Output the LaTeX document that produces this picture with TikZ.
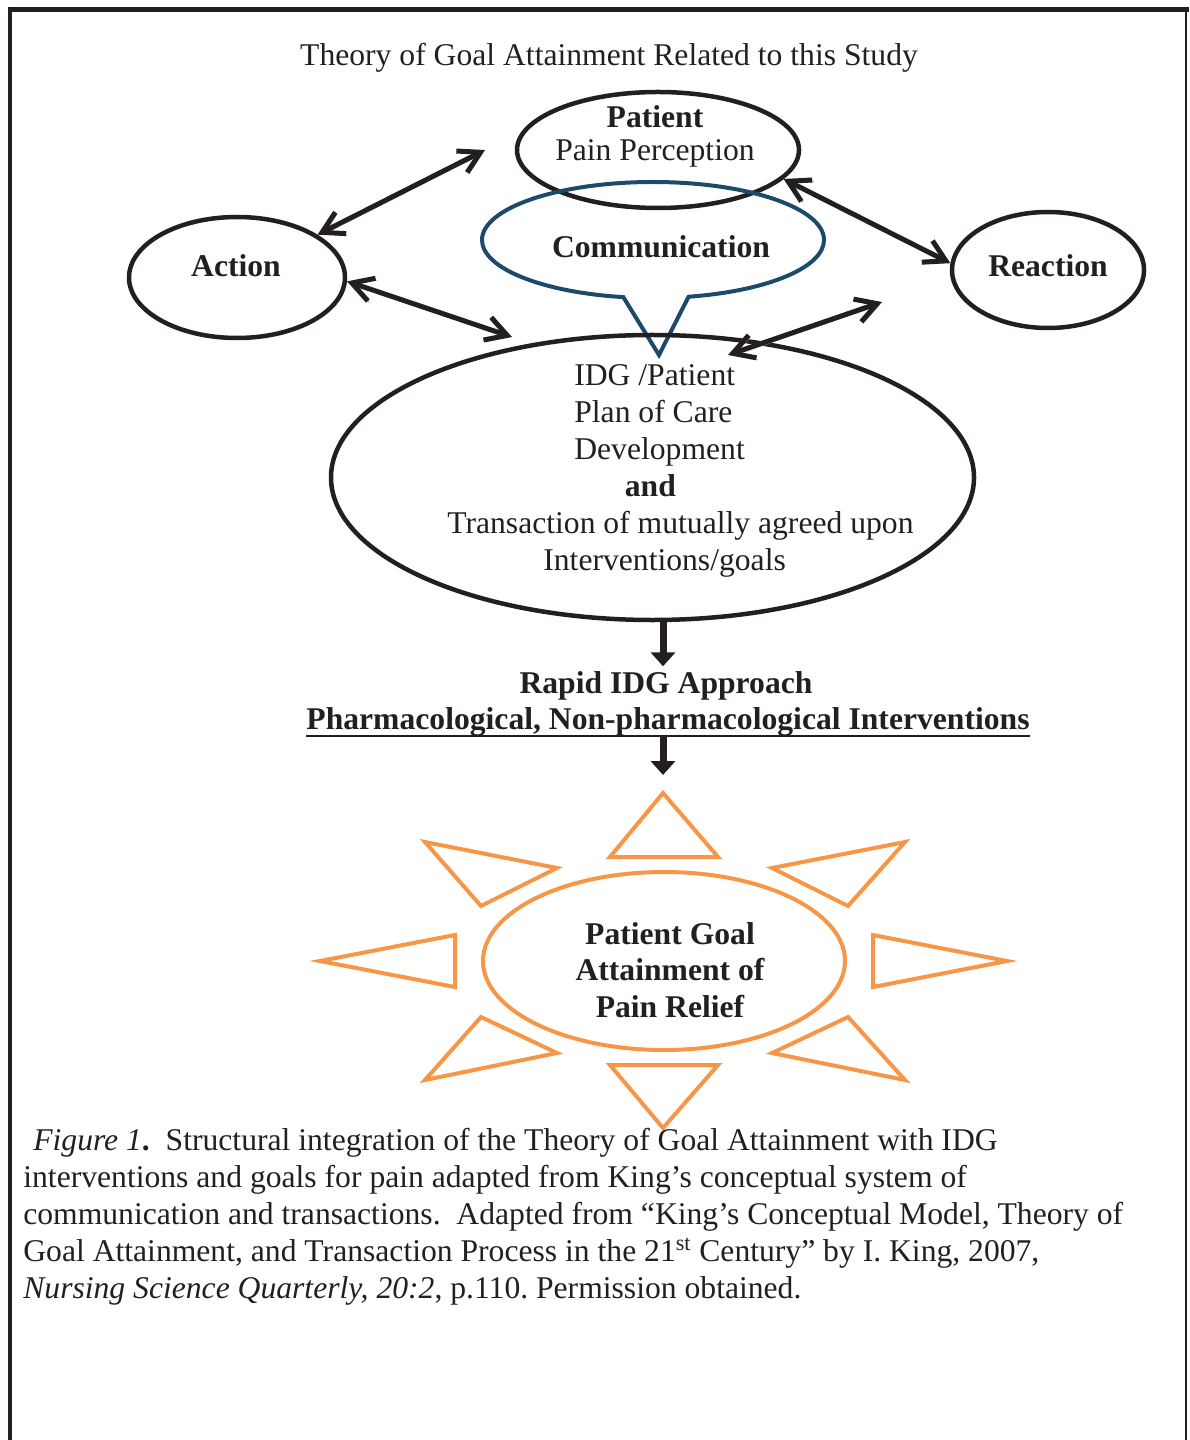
\documentclass[tikz,border=0pt]{standalone}
\usepackage{fontspec}
\setmainfont{Liberation Serif}
\usepackage{xcolor}
\usetikzlibrary{arrows.meta,shapes.geometric,shapes.callouts,positioning}
\definecolor{ink}{HTML}{231F20}
\definecolor{sunorange}{HTML}{F79646}
\definecolor{commblue}{HTML}{1B4A6B}
\tikzset{
    bubble/.style={
        draw=ink,
        ellipse,
        line width=0.9mm,
        inner sep=0pt
      },
    bold text/.style={
        font=\fontsize{18}{21}\selectfont\bfseries,
        align=center,
        inner sep=0pt
      },
    twoway/.style={
        {Straight Barb[length=4.2mm,width=4.8mm]}-{Straight Barb[length=4.2mm,width=4.8mm]},
        draw=ink,
        line width=1mm,
        preaction={draw=gray!55,transform canvas={shift={(0.35mm,-0.35mm)}}}
      },
    downward/.style={
        -{Triangle[length=2.8mm,width=4.8mm]},
        draw=ink,
        line width=1.4mm
      },
    ray/.style={
        draw=sunorange,
        line width=0.8mm,
        line join=miter
      }
}

\begin{document}
\begin{tikzpicture}[x=0.2mm,y=-0.2mm,font=\fontsize{18}{21}\selectfont,text=ink]
  \useasboundingbox (0,0) rectangle (1189,1440);
  % frame
  \draw[ink,line width=1mm] (8,10) -- (1189,10);
  \draw[ink,line width=0.8mm] (10,10) -- (10,1440);
  \draw[ink,line width=0.3mm] (1186,10) -- (1186,1440);

  \node (title) at (609,58) {Theory of Goal Attainment Related to this Study};

  % upper circle of nodes
  \node[bubble,minimum width=56.4mm,minimum height=23.2mm] (pat) at (658,150) {};
  \node[align=center,inner sep=0pt,font=\fontsize{18}{18.8}\selectfont] (patT) at (655,136)
    {\textbf{Patient}\\Pain Perception};
  \node[ellipse callout,draw=commblue,line width=0.8mm,inner sep=0pt,
        minimum width=68.4mm,minimum height=23.2mm,
        callout absolute pointer={(659,355)},callout pointer arc=22] (com) at (653,240) {};
  \node[bold text] (comT) at (661,247) {Communication};
  \node[bubble,minimum width=43.2mm,minimum height=24.2mm] (act) at (237,277.5) {};
  \node[bold text] (actT) at (236,266) {Action};
  \node[bubble,minimum width=38.4mm,minimum height=23.2mm] (rea) at (1048,270) {};
  \node[bold text] (reaT) at (1048,266) {Reaction};

  \node[bubble,minimum width=128.6mm,minimum height=57mm] (idg) at (652.5,477.5) {};
  \node[anchor=west,align=left,inner sep=0pt] (idgT) at (447,471)
    {\hspace*{25.4mm}IDG /Patient\\
     \hspace*{25.4mm}Plan of Care\\
     \hspace*{25.4mm}Development\\
     \hspace*{35.5mm}\textbf{and}\\
     Transaction of mutually agreed upon\\
     \hspace*{19.2mm}Interventions/goals};

  \coordinate (nearPat) at (485,150);
  \coordinate (nearIdgL) at (512,337);
  \coordinate (inIdgR) at (728,355);
  \coordinate (nearRea) at (882,302);
  \draw[twoway] (act.28) -- (nearPat);
  \draw[twoway] (act.-2) -- (nearIdgL);
  \draw[twoway] (pat.-13) -- (rea.176);
  \draw[twoway] (inIdgR) -- (nearRea);

  % approach
  \node[bold text,inner sep=1mm] (rapid) at (666,686) {Rapid IDG Approach};
  \node[bold text] (pharm) at (668,722) {Pharmacological, Non-pharmacological Interventions};
  \draw[ink,line width=0.55mm] ([yshift=-1.3mm]pharm.base west) -- ([yshift=-1.3mm]pharm.base east);
  \coordinate (rayN) at (663,793);
  \draw[downward] (rayN |- idg.south) -- (rayN |- rapid.north);

  % sun
  \draw[downward,shorten >=3.6mm] (rayN |- pharm.south) -- (rayN);
  \node[ellipse,draw=sunorange,line width=0.8mm,inner sep=0pt,
        minimum width=72.4mm,minimum height=35.6mm] (goal) at (664,961) {};
  \node[bold text,font=\fontsize{18}{20.8}\selectfont\bfseries] (goalT) at (670,970)
    {Patient Goal\\Attainment of\\Pain Relief};
  \foreach \ax/\ay/\bx/\by/\cx/\cy in {663/793/610/857/718/857, 663/1128/610/1065/718/1065,
      320/961/455/935/455/987, 1007/961/873/935/873/987,
      425/842/557/868/481/906, 905/842/772/868/848/906,
      425/1080/557/1053/481/1017, 905/1080/772/1053/848/1017}
    \draw[ray] (\ax,\ay) -- (\bx,\by) -- (\cx,\cy) -- cycle;

  % caption
  \node[anchor=north west,align=left,inner sep=0pt] (cap) at (23,1128)
    {\hspace*{2mm}\textit{Figure 1}\textbf{.}\ \ Structural integration of the Theory of Goal Attainment with IDG\\
     interventions and goals for pain adapted from King’s conceptual system of\\
     communication and transactions.\ \ Adapted from “King’s Conceptual Model, Theory of\\
     Goal Attainment, and Transaction Process in the 21\textsuperscript{st} Century” by I. King, 2007,\\
     \textit{Nursing Science Quarterly, 20:2}, p.110.\ Permission obtained.};
\end{tikzpicture}
\end{document}
